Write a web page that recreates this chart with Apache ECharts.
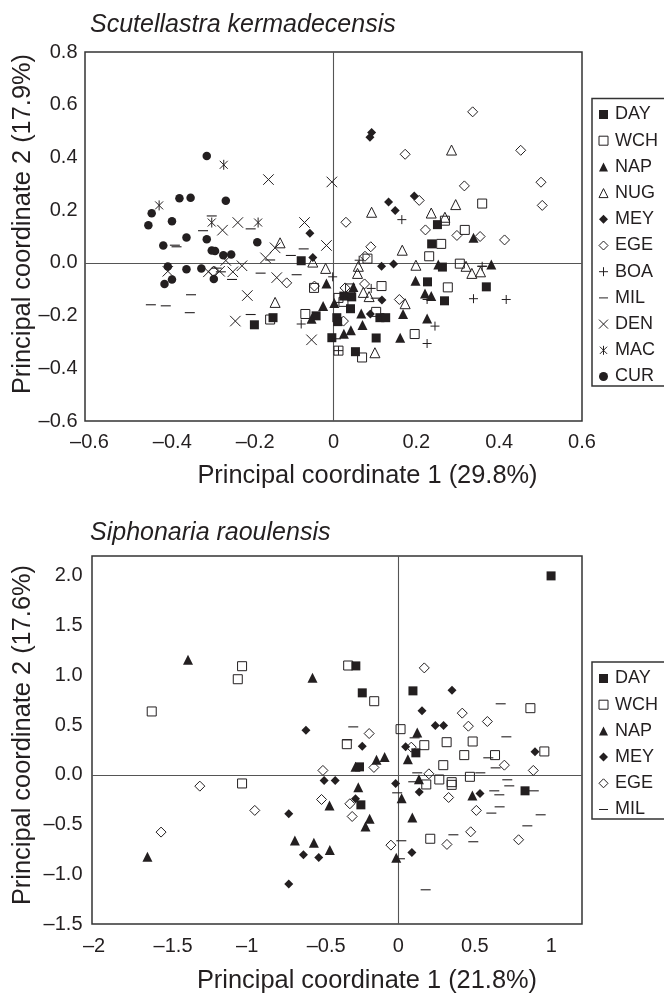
<!DOCTYPE html>
<html><head><meta charset="utf-8">
<style>html,body{margin:0;padding:0;background:#fff}#c{width:664px;height:994px}</style>
<script src="https://cdn.jsdelivr.net/npm/echarts@6/dist/echarts.min.js"></script>
</head><body><div id="c"></div>
<script>
const namesA=['DAY','WCH','NAP','NUG','MEY','EGE','BOA','MIL','DEN','MAC','CUR'];
const namesB=['DAY','WCH','NAP','MEY','EGE','MIL'];
const xTicksA=['–0.6','–0.4','–0.2','0','0.2','0.4','0.6'];
const yTicksA=['–0.6','–0.4','–0.2','0.0','0.2','0.4','0.6','0.8'];
const xTicksB=['–2','–1.5','–1','–0.5','0','0.5','1'];
const yTicksB=['–1.5','–1.0','–0.5','0.0','0.5','1.0','1.5','2.0'];

const A_DAY=[[0.251,0.145],[0.237,0.072],[0.263,-0.016],[0.227,-0.072],[0.369,-0.091],[0.268,-0.144],[0.025,-0.126],[0.044,-0.129],[0.041,-0.174],[0.008,-0.208],[0.010,-0.223],[0.112,-0.208],[0.126,-0.208],[0.103,-0.285],[0.053,-0.337],[-0.004,-0.284],[-0.078,0.008],[-0.191,-0.235],[-0.146,-0.208],[-0.042,-0.201]];
const A_WCH=[[0.359,0.225],[0.317,0.125],[0.269,0.160],[0.260,0.072],[0.231,0.025],[0.082,0.016],[0.305,-0.003],[0.116,-0.088],[0.276,-0.093],[0.040,-0.097],[0.012,-0.133],[0.024,-0.148],[0.103,-0.186],[0.196,-0.270],[0.069,-0.359],[0.012,-0.333],[-0.047,-0.095],[-0.068,-0.194],[-0.153,-0.215]];
const A_NAP=[[0.338,0.095],[0.253,-0.006],[0.381,-0.006],[0.198,-0.068],[0.221,-0.116],[0.236,-0.126],[0.048,-0.092],[0.002,-0.152],[0.067,-0.192],[0.168,-0.194],[0.226,-0.211],[0.070,-0.236],[0.042,-0.256],[0.025,-0.269],[0.161,-0.284],[-0.017,-0.078],[-0.025,-0.164],[-0.053,-0.212]];
const A_NUG=[[0.285,0.428],[0.092,0.192],[0.295,0.221],[0.236,0.189],[0.269,0.173],[0.166,0.048],[0.199,-0.009],[0.320,-0.013],[0.334,-0.040],[0.355,-0.034],[0.060,-0.013],[0.058,-0.040],[0.072,-0.112],[0.086,-0.128],[0.173,-0.155],[0.100,-0.341],[-0.129,0.076],[-0.050,0.003],[-0.019,-0.021],[-0.141,-0.150]];
const A_MEY=[[0.092,0.495],[0.088,0.477],[0.195,0.254],[0.133,0.231],[0.149,0.199],[0.116,-0.013],[0.145,-0.004],[0.117,-0.141],[0.089,-0.194],[-0.057,0.112],[-0.050,0.020]];
const A_EGE=[[0.336,0.573],[0.173,0.412],[0.452,0.427],[0.501,0.306],[0.316,0.292],[0.504,0.218],[0.207,0.237],[0.030,0.154],[0.222,0.125],[0.298,0.104],[0.354,0.100],[0.413,0.087],[0.090,0.061],[0.076,0.025],[0.075,-0.080],[0.028,-0.095],[0.159,-0.139],[0.024,-0.221],[-0.113,-0.076],[-0.046,-0.088],[-0.290,-0.032]];
const A_BOA=[[0.165,0.164],[0.062,0.010],[0.359,-0.013],[-0.002,-0.053],[0.091,-0.097],[0.226,-0.139],[0.338,-0.136],[0.417,-0.139],[0.245,-0.240],[0.226,-0.306],[0.012,-0.333],[-0.078,-0.232]];
const A_MIL=[[-0.294,0.178],[-0.200,0.129],[-0.315,0.122],[-0.383,0.067],[-0.379,0.061],[-0.072,0.053],[-0.103,0.028],[-0.153,0.011],[-0.282,-0.020],[-0.272,-0.034],[-0.176,-0.039],[-0.089,-0.045],[-0.245,-0.063],[-0.344,-0.121],[-0.441,-0.159],[-0.405,-0.163],[-0.347,-0.189],[-0.200,-0.196],[0.006,-0.288],[0.102,-0.134],[0.359,-0.013]];
const A_DEN=[[-0.157,0.316],[-0.004,0.307],[-0.231,0.153],[-0.070,0.153],[-0.268,0.124],[-0.017,0.066],[-0.141,0.057],[-0.164,0.019],[-0.260,0.009],[-0.221,-0.011],[-0.243,-0.034],[-0.302,-0.034],[-0.275,-0.032],[-0.400,-0.032],[-0.137,-0.056],[-0.208,-0.124],[-0.237,-0.221],[-0.053,-0.292]];
const A_MAC=[[-0.265,0.372],[-0.421,0.218],[-0.294,0.153],[-0.182,0.153]];
const A_CUR=[[-0.306,0.405],[-0.260,0.236],[-0.345,0.247],[-0.372,0.245],[-0.439,0.188],[-0.390,0.158],[-0.447,0.143],[-0.355,0.096],[-0.306,0.090],[-0.411,0.066],[-0.184,0.078],[-0.294,0.047],[-0.286,0.045],[-0.266,0.029],[-0.247,0.032],[-0.400,-0.014],[-0.355,-0.024],[-0.319,-0.021],[-0.289,-0.061],[-0.390,-0.063],[-0.408,-0.080]];

const B_DAY=[[-0.277,1.095],[-0.235,0.824],[-0.253,0.080],[-0.244,-0.302],[0.998,2.0],[0.096,0.844],[0.115,0.221],[0.828,-0.161]];
const B_WCH=[[-1.610,0.637],[-1.020,1.092],[-1.048,0.961],[-0.327,1.099],[-0.157,0.740],[0.015,0.459],[-0.336,0.308],[-1.020,-0.087],[0.863,0.670],[0.170,0.298],[0.316,0.328],[0.486,0.335],[0.954,0.235],[0.431,0.198],[0.632,0.198],[0.294,0.097],[0.268,-0.047],[0.468,-0.020],[0.349,-0.074],[0.349,-0.101],[0.183,-0.097],[0.209,-0.643]];
const B_NAP=[[-1.373,1.156],[-0.560,0.975],[0.124,0.425],[-1.638,-0.824],[-0.675,-0.660],[-0.551,-0.683],[-0.447,-0.757],[-0.449,-0.308],[-0.261,-0.124],[-0.187,-0.442],[-0.214,-0.519],[-0.279,0.080],[-0.142,0.151],[-0.089,0.178],[-0.013,-0.834],[0.063,0.157],[0.135,-0.044],[0.022,-0.235],[0.484,-0.208],[0.092,-0.429]];
const B_MEY=[[-0.603,0.449],[-0.235,0.288],[-0.484,-0.057],[-0.412,-0.057],[-0.017,-0.087],[-0.279,-0.241],[-0.715,-0.392],[-0.619,-0.804],[-0.519,-0.831],[-0.715,-1.099],[0.351,0.851],[0.155,0.643],[0.242,0.496],[0.296,0.496],[0.048,0.281],[0.893,0.231],[0.137,-0.174],[0.534,-0.188],[0.089,-0.781]];
const B_EGE=[[-0.190,0.415],[-0.492,0.044],[-0.159,0.074],[-1.296,-0.114],[-0.937,-0.358],[-1.549,-0.576],[-0.501,-0.248],[-0.316,-0.291],[-0.301,-0.419],[-0.048,-0.707],[0.170,1.075],[0.418,0.620],[0.458,0.489],[0.582,0.536],[0.085,0.278],[0.693,0.097],[0.882,0.044],[0.200,0.010],[0.329,-0.228],[0.510,-0.358],[0.473,-0.573],[0.318,-0.700],[0.786,-0.653]];
const B_MIL=[[-0.294,0.482],[-0.333,0.352],[0.669,0.714],[0.107,0.372],[0.706,0.382],[0.588,0.171],[0.636,0.070],[0.124,0.020],[0.536,0.020],[0.098,-0.070],[0.712,-0.050],[0.725,-0.111],[0.627,-0.161],[0.660,-0.201],[0.885,-0.161],[0.662,-0.322],[0.608,-0.385],[0.930,-0.402],[0.843,-0.513],[0.360,-0.603],[0.490,-0.673],[0.020,-0.663],[0.011,-0.844],[0.179,-1.156],[-0.007,-0.181]];

const INK='#231f20';
const DASH='path://M0 0H10V1.1H0Z';
const PLUS='path://M0 5H10M5 0V10';
const CROSS='path://M0 0L10 10M0 10L10 0';
const STAR='path://M1 1L9 9M1 9L9 1M5 0V10';
const style={
 DAY:{symbol:'rect',size:9,fill:true},
 WCH:{symbol:'rect',size:9,fill:false},
 NAP:{symbol:'triangle',size:10,fill:true},
 NUG:{symbol:'triangle',size:10,fill:false},
 MEY:{symbol:'diamond',size:9,fill:true},
 EGE:{symbol:'diamond',size:10,fill:false},
 BOA:{symbol:PLUS,size:9,fill:false},
 MIL:{symbol:DASH,size:10,fill:true,noBorder:true},
 DEN:{symbol:CROSS,size:10.5,fill:false},
 MAC:{symbol:STAR,size:10,fill:false},
 CUR:{symbol:'circle',size:8.5,fill:true}
};
function mk(name,data,xi,withLines){
 const s=style[name];
 const o={name,type:'scatter',xAxisIndex:xi,yAxisIndex:xi,data,symbol:s.symbol,symbolSize:s.size,symbolKeepAspect:true,
  itemStyle:{color:s.fill?INK:'rgba(0,0,0,0)',borderColor:INK,borderWidth:s.noBorder?0:(s.fill?0:1),opacity:1},
  emphasis:{disabled:true},z:5};
 if(withLines){
  o.markLine={silent:true,symbol:'none',animation:false,z:1,label:{show:false},lineStyle:{color:'#555',width:1.1,type:'solid'},
   data:[{xAxis:0},{yAxis:0}]};
 }
 return o;
}
const seriesA={DAY:A_DAY,WCH:A_WCH,NAP:A_NAP,NUG:A_NUG,MEY:A_MEY,EGE:A_EGE,BOA:A_BOA,MIL:A_MIL,DEN:A_DEN,MAC:A_MAC,CUR:A_CUR};
const seriesB={DAY:B_DAY,WCH:B_WCH,NAP:B_NAP,MEY:B_MEY,EGE:B_EGE,MIL:B_MIL};
const FONT='"Liberation Sans",Arial,sans-serif';
const tickFont={fontFamily:FONT,fontSize:20,color:INK};
function axis(gi,min,max,iv,ticks,title,gap,pad,margin,isX){
 return {type:'value',gridIndex:gi,min,max,interval:iv,
  axisLine:{show:false,onZero:false},splitLine:{show:false},
  axisTick:{show:false},
  axisLabel:Object.assign({},tickFont,{margin,showMaxLabel:true,showMinLabel:true,hideOverlap:false,
   rich:{l:Object.assign({padding:[0,0,0,9]},tickFont),s:Object.assign({padding:[0,0,0,4]},tickFont)},
   formatter:v=>{const i=Math.round((v-min)/iv);
    const t=Math.abs(min+i*iv-v)<1e-6&&i<ticks.length?ticks[i]:'';
    return isX&&t[0]==='–'?'{'+(t.length>2?'l':'s')+'|'+t+'}':t;}}),
  name:title,nameLocation:'middle',nameGap:gap,nameMoveOverlap:false,
  nameTextStyle:{fontFamily:FONT,fontSize:25.4,color:INK,padding:pad}};
}
function legend(names,top){
 return {data:names.map(n=>({name:n,itemStyle:{borderWidth:style[n].fill?0:1}})),orient:'vertical',left:598.5,top,itemWidth:9,itemHeight:9,itemGap:7.2,
  selectedMode:false,symbolKeepAspect:true,
  textStyle:{fontFamily:FONT,fontSize:18,color:INK,lineHeight:19,padding:[0,0,0,2]},padding:0};
}
const titleStyle={fontFamily:FONT,fontStyle:'italic',fontWeight:'normal',fontSize:25,color:INK};
const gridBase={show:true,borderColor:'#333',borderWidth:1.5,backgroundColor:'transparent',outerBoundsMode:'none',containLabel:false};
const option={
 animation:false,backgroundColor:'#fff',
 title:[
  {text:'Scutellastra kermadecensis',left:90,top:13,padding:0,textStyle:titleStyle},
  {text:'Siphonaria raoulensis',left:90,top:521,padding:0,textStyle:titleStyle}
 ],
 grid:[
  Object.assign({left:85,top:52,width:497,height:369},gridBase),
  Object.assign({left:92,top:556,width:490,height:368},gridBase)
 ],
 xAxis:[
  axis(0,-0.6,0.6,0.2,xTicksA,'Principal coordinate 1 (29.8%)',42,[0,0,0,68],11,true),
  axis(1,-2,1.2,0.5,xTicksB,'Principal coordinate 1 (21.8%)',44,[0,0,0,60],12,true)
 ],
 yAxis:[
  axis(0,-0.6,0.8,0.2,yTicksA,'Principal coordinate 2 (17.9%)',50,[0,0,0,25],7.5,false),
  axis(1,-1.5,2.2,0.5,yTicksB,'Principal coordinate 2 (17.6%)',57,[0,0,0,10],9.5,false)
 ],
 legend:[legend(namesA,105),legend(namesB,669)],
 graphic:[
  {type:'rect',silent:true,shape:{x:592,y:98.5,width:90,height:287.5},style:{fill:'none',stroke:'#333',lineWidth:1.5}},
  {type:'rect',silent:true,shape:{x:592,y:662,width:90,height:157},style:{fill:'none',stroke:'#333',lineWidth:1.5}}
 ],
 series:[
  ...namesA.map((n,i)=>mk(n,seriesA[n],0,i===0)),
  ...namesB.map((n,i)=>mk(n,seriesB[n],1,i===0))
 ]
};
echarts.init(document.getElementById('c'),null,{renderer:'canvas'}).setOption(option);
</script></body></html>
